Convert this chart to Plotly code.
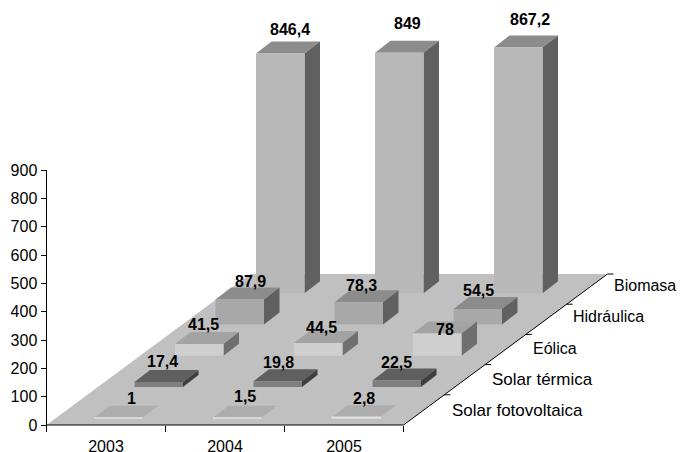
import plotly.graph_objects as go

# --- data ---
years = ["2003", "2004", "2005"]
sources = ["Solar fotovoltaica", "Solar térmica", "Eólica", "Hidráulica", "Biomasa"]
solar_fv = [1, 1.5, 2.8]
solar_term = [17.4, 19.8, 22.5]
eolica = [41.5, 44.5, 78]
hidraulica = [87.9, 78.3, 54.5]
biomasa = [846.4, 849, 867.2]
y_ticks = [0, 100, 200, 300, 400, 500, 600, 700, 800, 900]

series = [solar_fv, solar_term, eolica, hidraulica, biomasa]

# --- style / projection ---
FONT = "Liberation Sans"
PX_X = 119.0      # pixels per category
PX_V = 0.2833     # pixels per value unit
ORG_X, ORG_Y = 46.5, 425.0
W, H = 680, 452

ux = lambda px: px / PX_X
uv = lambda px: px / PX_V

BAR_X0, ROW_X, BAR_W, SIDE_X = ux(47.5), ux(40.5), ux(48.5), ux(15.5)
BAR_Y0, ROW_Y, SIDE_Y = uv(6.9), uv(31.2), uv(12)
DEPTH_X, DEPTH_Y = ux(40.8), uv(30.2)

# colours per series: front, top, side
faces = [
    ("#e2e2e2", "#adadad", "#8a8a8a"),
    ("#7f7f7f", "#5f5f5f", "#3f3f3f"),
    ("#cfcfcf", "#a3a3a3", "#6f6f6f"),
    ("#a8a8a8", "#8c8c8c", "#606060"),
    ("#b8b8b8", "#8c8c8c", "#606060"),
]
# front-face outline width per series, so that very thin bars stay visible
front_outline = [1.5, 0, 0, 0, 0]
# depth label font size per series
depth_font = [17, 17, 16, 16, 16]
# label nudges in pixels (dx, dy upward)
nudges = [
    [(13, 7), (8, 9), (8, 7)],
    [(3.5, 8), (0.5, 6.5), (0, 6)],
    [(4, 7.5), (3.7, 4), (8, -8)],
    [(10.5, 6), (2.5, 5), (1, 6.7)],
    [(10, 12.5), (8, 17), (12, 16)],
]

fig = go.Figure()


def poly(xs, ys, color, width=0):
    fig.add_trace(go.Scatter(x=xs, y=ys, mode="lines", fill="toself", fillcolor=color,
                             line=dict(width=width, color=color), hoverinfo="skip", showlegend=False))


def line(xs, ys):
    fig.add_trace(go.Scatter(x=xs, y=ys, mode="lines", line=dict(width=1, color="#000000"),
                             hoverinfo="skip", showlegend=False))


# floor
n = len(sources)
m = len(years)
poly([0, m, m + n * DEPTH_X, n * DEPTH_X, 0], [0, 0, n * DEPTH_Y, n * DEPTH_Y, 0], "#c0c0c0")

annotations = []

# bars, back row first
for r in reversed(range(n)):
    front, top, side = faces[r]
    for c in range(m):
        v = series[r][c]
        x0 = BAR_X0 + r * ROW_X + c
        x1 = x0 + BAR_W
        y0 = BAR_Y0 + r * ROW_Y
        y1 = y0 + v
        poly([x0, x1, x1 + SIDE_X, x0 + SIDE_X, x0], [y1, y1, y1 + SIDE_Y, y1 + SIDE_Y, y1], top)
        poly([x1, x1 + SIDE_X, x1 + SIDE_X, x1, x1], [y0, y0 + SIDE_Y, y1 + SIDE_Y, y1, y0], side)
        poly([x0, x1, x1, x0, x0], [y0, y0, y1, y1, y0], front, front_outline[r])
        dx, dy = nudges[r][c]
        annotations.append(dict(
            x=x0 + BAR_W / 2, y=y1 + SIDE_Y, xref="x", yref="y",
            text=str(v).replace(".", ","), showarrow=False, xshift=dx, yshift=dy,
            xanchor="center", yanchor="middle",
            font=dict(family=FONT, size=16, color="#000000", weight="bold"),
        ))

# axis lines
line([0, 0], [0, y_ticks[-1]])
line([0, m], [0, 0])
line([m, m + n * DEPTH_X], [0, n * DEPTH_Y])
for r in range(1, n + 1):
    line([m + r * DEPTH_X, m + r * DEPTH_X + ux(6)], [r * DEPTH_Y, r * DEPTH_Y])

# depth axis labels
for r, name in enumerate(sources):
    annotations.append(dict(
        x=m + ux(46) + r * ROW_X, y=uv(14.5) + r * ROW_Y, xref="x", yref="y",
        text=name, showarrow=False, xanchor="left", yanchor="middle",
        font=dict(family=FONT, size=depth_font[r], color="#000000"),
    ))

fig.update_layout(
    width=W, height=H, autosize=False,
    margin=dict(l=0, r=0, t=0, b=0, pad=0, autoexpand=False),
    paper_bgcolor="#ffffff", plot_bgcolor="#ffffff",
    showlegend=False,
    font=dict(family=FONT, size=16, color="#000000"),
    annotations=annotations,
    xaxis=dict(
        range=[-ORG_X / PX_X, (W - ORG_X) / PX_X], domain=[0, 1],
        anchor="free", position=(H - ORG_Y) / H, automargin=False,
        tickmode="array", tickvals=[i + 0.5 for i in range(m)], ticktext=years,
        ticks="", ticklabelstandoff=10,
        minor=dict(tickmode="array", tickvals=list(range(m + 1)), ticks="outside",
                   ticklen=6, tickwidth=1, tickcolor="#000000", showgrid=False),
        showgrid=False, zeroline=False, showline=False, fixedrange=True,
        tickfont=dict(family=FONT, size=16, color="#000000"),
    ),
    yaxis=dict(
        range=[-(H - ORG_Y) / PX_V, ORG_Y / PX_V], domain=[0, 1],
        anchor="free", position=ORG_X / W, automargin=False,
        tickmode="array", tickvals=y_ticks, ticktext=[str(t) for t in y_ticks],
        ticks="outside", ticklen=6, tickwidth=1, tickcolor="#000000",
        showgrid=False, zeroline=False, showline=False, fixedrange=True,
        tickfont=dict(family=FONT, size=16, color="#000000"),
    ),
)

fig.write_html("out.html", config={"displayModeBar": False},
               post_script="document.body.style.margin='0';document.body.style.overflow='hidden';")
